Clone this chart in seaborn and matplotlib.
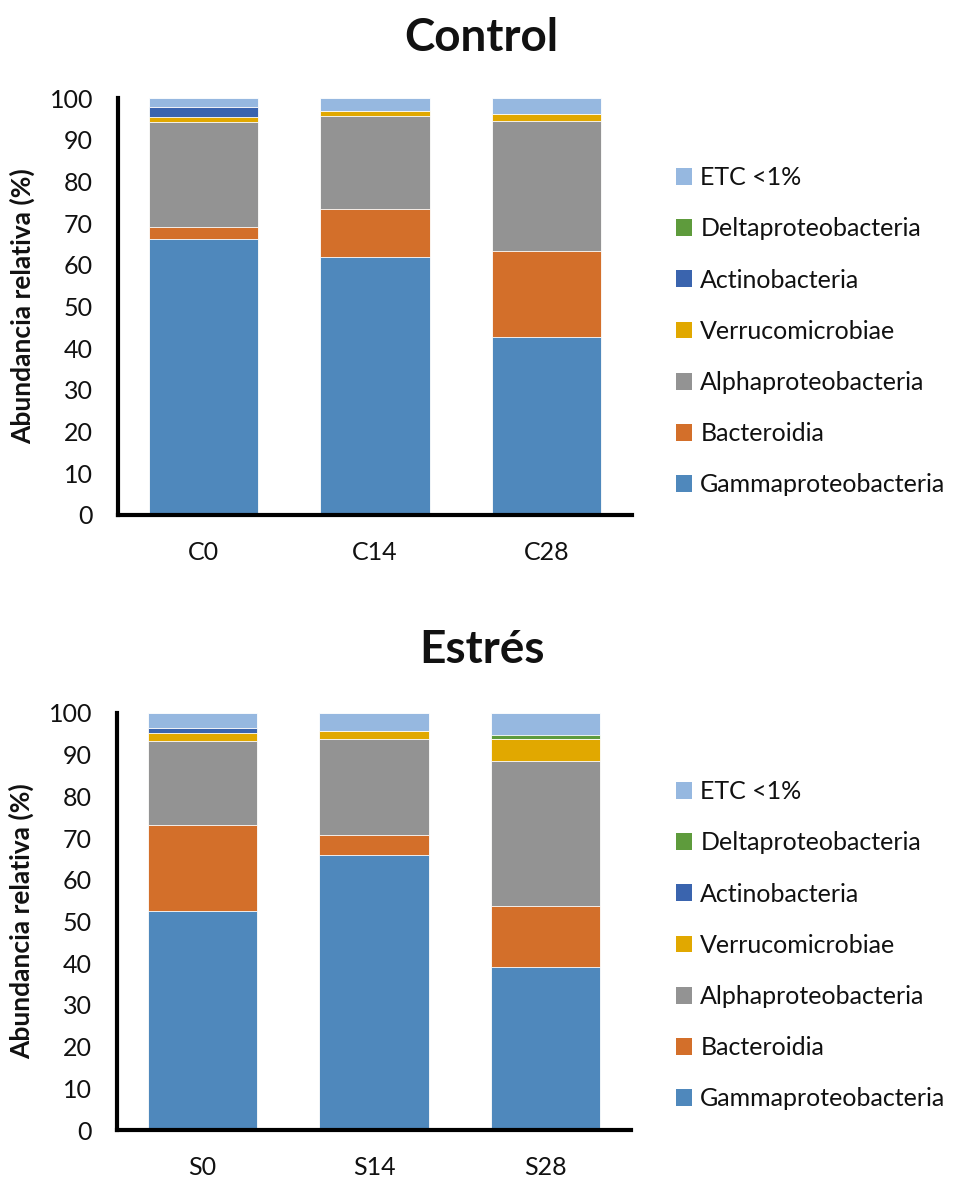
import matplotlib
matplotlib.use("Agg")
import matplotlib.pyplot as plt
from matplotlib.patches import Patch
import seaborn as sns
import pandas as pd
import numpy as np

# ---- data ----
taxa = ["Gammaproteobacteria", "Bacteroidia", "Alphaproteobacteria",
        "Verrucomicrobiae", "Actinobacteria", "Deltaproteobacteria", "ETC <1%"]
colors = ["#4F88BC", "#D36F2A", "#939393", "#E1A800", "#3A64AE", "#5E9B3C", "#96B8E0"]

control_samples = ["C0", "C14", "C28"]
control_gamma = [66.1, 61.9, 42.7]
control_bact = [2.9, 11.4, 20.5]
control_alpha = [25.2, 22.5, 31.3]
control_verr = [1.3, 1.0, 1.7]
control_actino = [2.3, 0.0, 0.0]
control_delta = [0.0, 0.0, 0.0]
control_etc = [2.2, 3.2, 3.8]

stress_samples = ["S0", "S14", "S28"]
stress_gamma = [52.4, 66.0, 39.0]
stress_bact = [20.8, 4.7, 14.6]
stress_alpha = [20.2, 23.1, 35.0]
stress_verr = [1.7, 1.9, 5.2]
stress_actino = [1.3, 0.0, 0.0]
stress_delta = [0.0, 0.0, 1.0]
stress_etc = [3.6, 4.3, 5.2]

sns.set_theme(style="white")
plt.rcParams["font.family"] = ["Lato", "DejaVu Sans"]
TXT = "#111111"

W, H = 963, 1182
fig = plt.figure(figsize=(W / 100, H / 100), dpi=100)


def px_axes(x0, y0, x1, y1):
    return fig.add_axes([x0 / W, 1 - y1 / H, (x1 - x0) / W, (y1 - y0) / H])


def stacked(ax, samples, layers, legend_y):
    df = pd.DataFrame({"sample": samples})
    cum = np.zeros(len(samples))
    cums = []
    for vals in layers:
        cum = cum + np.array(vals)
        cums.append(cum.copy())
    # draw from top layer down so lower layers paint over
    for i in range(len(layers) - 1, -1, -1):
        df["h"] = cums[i]
        sns.barplot(data=df, x="sample", y="h", color=colors[i], width=0.64,
                    order=samples, ax=ax, edgecolor="white", linewidth=0.6,
                    saturation=1)
    ax.set_ylim(0, 100)
    ax.set_xlim(-0.5, 2.5)
    ax.set_yticks(range(0, 101, 10))
    ax.tick_params(axis="y", length=0, pad=18, labelsize=18, colors=TXT)
    ax.tick_params(axis="x", length=0, pad=19, labelsize=18, colors=TXT)
    ax.set_xlabel("")
    ax.set_ylabel("Abundancia relativa (%)", fontsize=19, fontweight="bold",
                  color=TXT)
    ax.yaxis.set_label_coords(-(118 - 35) / 514, 0.5)
    for s in ["top", "right"]:
        ax.spines[s].set_visible(False)
    for s in ["left", "bottom"]:
        ax.spines[s].set_color("black")
        ax.spines[s].set_linewidth(3)
    handles = [Patch(facecolor=colors[i], edgecolor="none", label=taxa[i])
               for i in range(len(taxa) - 1, -1, -1)]
    leg = fig.legend(handles=handles, loc="upper left",
                     bbox_to_anchor=(676 / W, 1 - legend_y / H), frameon=False,
                     fontsize=18, labelspacing=1.13, handlelength=0.65,
                     handleheight=0.65, handletextpad=0.32, borderaxespad=0,
                     borderpad=0)
    for t in leg.get_texts():
        t.set_color(TXT)


ax1 = px_axes(118, 98, 632, 515)
stacked(ax1, control_samples,
        [control_gamma, control_bact, control_alpha, control_verr,
         control_actino, control_delta, control_etc], 166)
fig.text(0.5, 1 - 38 / H, "Control", ha="center", va="center",
         fontsize=33, fontweight="bold", color=TXT)

ax2 = px_axes(117, 713, 631, 1130)
stacked(ax2, stress_samples,
        [stress_gamma, stress_bact, stress_alpha, stress_verr,
         stress_actino, stress_delta, stress_etc], 780)
fig.text(0.5, 1 - 650 / H, "Estrés", ha="center", va="center",
         fontsize=33, fontweight="bold", color=TXT)

fig.savefig("out.png", dpi=100)
